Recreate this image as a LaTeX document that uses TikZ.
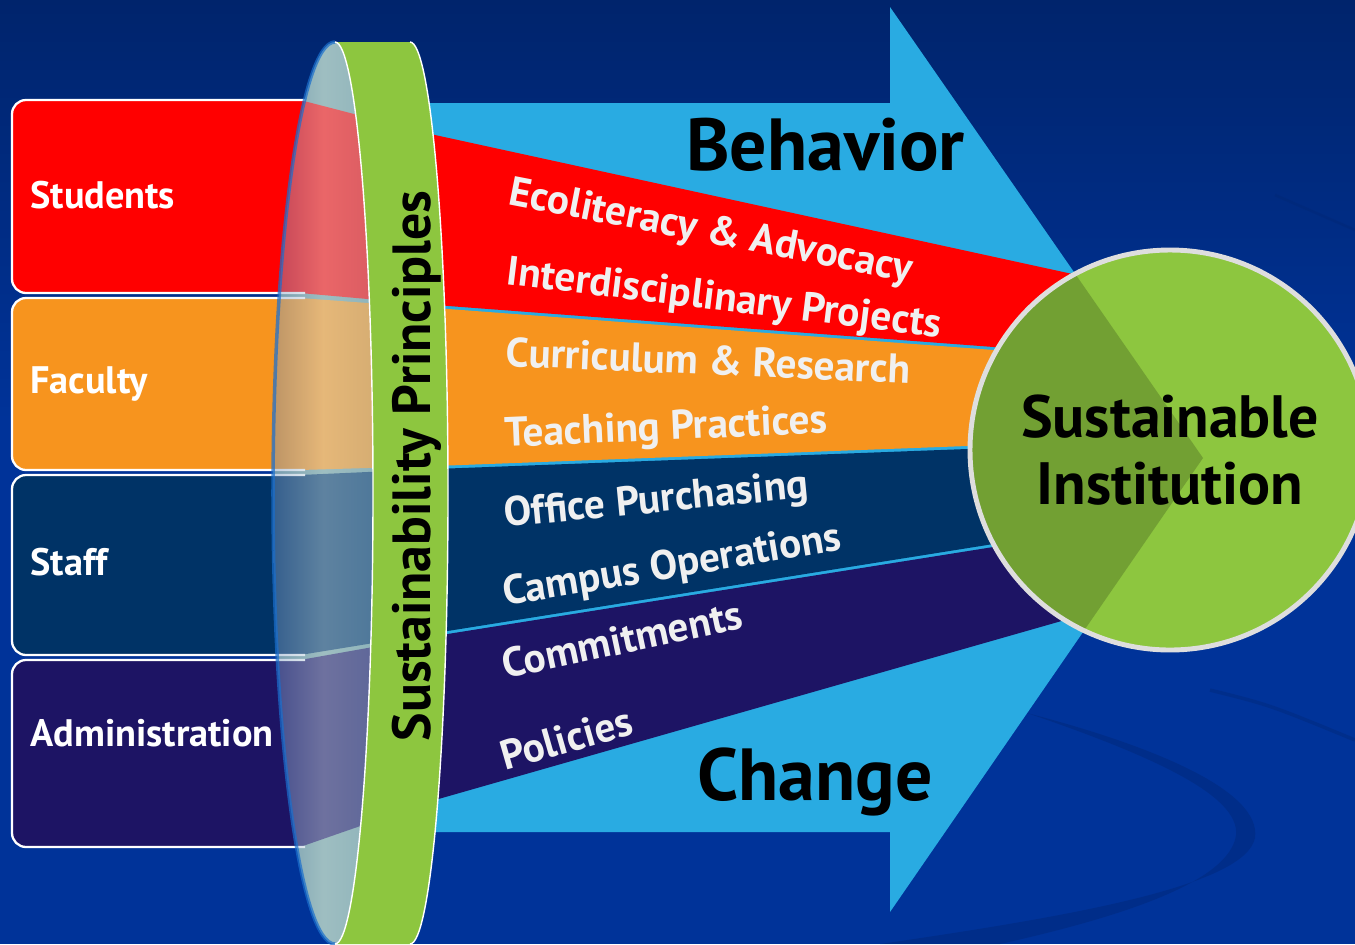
\documentclass[tikz,border=0pt]{standalone}
\usepackage{fontspec}
\setmainfont{PT Sans}
\usetikzlibrary{positioning}
\definecolor{bgtop}{RGB}{0,36,108}
\definecolor{bgmain}{RGB}{0,51,153}
\definecolor{arrowblue}{RGB}{41,171,226}
\definecolor{bandred}{RGB}{255,0,0}
\definecolor{bandorange}{RGB}{247,148,30}
\definecolor{bandnavy}{RGB}{0,51,102}
\definecolor{bandpurple}{RGB}{29,20,100}
\definecolor{ringgreen}{RGB}{141,198,63}
\definecolor{lensbase}{RGB}{117,160,162}
\definecolor{lensedge}{RGB}{25,110,205}
\definecolor{rimgray}{RGB}{222,222,222}

\begin{document}
\begin{tikzpicture}[x=0.02cm,y=-0.02cm,
	boxrim/.style={draw=white,line width=1.3pt,rounded corners=8pt},
	boxlabel/.style={anchor=base west,inner sep=0pt,text=white,font=\bfseries\fontsize{21.8}{26}\selectfont},
	fanlabel/.style={anchor=base west,inner sep=0pt,text=white!94!black,font=\bfseries\fontsize{23.5}{28}\selectfont},
	bigword/.style={anchor=base west,inner sep=0pt,text=black,font=\bfseries\fontsize{42}{50}\selectfont}]
	\useasboundingbox (0,0) rectangle (1355,944);
	
	\fill[bgmain] (0,0) rectangle (1355,944);
	\shade[top color=bgtop,bottom color=bgmain] (0,0) rectangle (1355,420);
	%\fill[bgtop,opacity=.35] swoosh
	\fill[bgtop,opacity=.35] (1027,713) .. controls (1150,745) and (1262,790) .. (1255,838) .. controls (1245,885) and (1080,915) .. (880,944) -- (1000,944) .. controls (1130,915) and (1230,880) .. (1236,835) .. controls (1240,795) and (1150,755) .. (1027,713) -- cycle;
	\draw[bgtop,opacity=.3,line width=2pt] (1210,690) .. controls (1270,705) .. (1355,740);
	\draw[bgtop,opacity=.25,line width=1.5pt] (1275,195) -- (1355,230);
	
	\fill[lensbase] (335,42) arc[start angle=-90,end angle=-270,x radius=62,y radius=451] arc[start angle=90,end angle=-90,x radius=38,y radius=451] -- cycle;
	
	\fill[arrowblue] (400,103) -- (890,103) -- (890,7) -- (1203,458) -- (890,912) -- (890,832) -- (400,832) -- cycle;
	
	\fill[bandred,rounded corners=8pt] (12,100) rectangle (310,293);
	\fill[bandred] (300,100) -- (435,135) -- (1100,280) -- (1100,355) -- (435,305) -- (300,293) -- cycle;
	\draw[boxrim] (305,100) -- (12,100) -- (12,293) -- (305,293);
	
	\fill[bandorange,rounded corners=8pt] (12,298) rectangle (310,470);
	\fill[bandorange] (300,298) -- (435,308) -- (1100,358) -- (1100,441) -- (435,466) -- (300,470) -- cycle;
	\draw[boxrim] (305,298) -- (12,298) -- (12,470) -- (305,470);
	
	\fill[bandnavy,rounded corners=8pt] (12,475) rectangle (310,655);
	\fill[bandnavy] (300,475) -- (435,469) -- (1100,444) -- (1100,527) -- (435,633) -- (300,655) -- cycle;
	\draw[boxrim] (305,475) -- (12,475) -- (12,655) -- (305,655);
	
	\fill[bandpurple,rounded corners=8pt] (12,660) rectangle (310,847);
	\fill[bandpurple] (300,660) -- (435,636) -- (1100,530) -- (1100,610) -- (435,800) -- (300,847) -- cycle;
	\draw[boxrim] (305,660) -- (12,660) -- (12,847) -- (305,847);
	
	\shade[opacity=.45,left color={rgb,255:red,120;green,150;blue,190},right color={rgb,255:red,175;green,205;blue,218},middle color={rgb,255:red,210;green,228;blue,232}] (335,42) arc[start angle=-90,end angle=-270,x radius=62,y radius=451] arc[start angle=90,end angle=-90,x radius=38,y radius=451] -- cycle;
	\draw[lensedge,line width=2pt,opacity=.7] (335,42) arc[start angle=-90,end angle=-270,x radius=62,y radius=451];
	
	\fill[ringgreen] (335,42) -- (410,42) arc[start angle=-90,end angle=90,x radius=38,y radius=451] -- (335,944) arc[start angle=90,end angle=-90,x radius=38,y radius=451] -- cycle;
	\draw[white,line width=.8pt] (410,42) arc[start angle=-90,end angle=90,x radius=38,y radius=451];
	\draw[white,line width=.8pt] (335,944) arc[start angle=90,end angle=-90,x radius=38,y radius=451];
	
	\node[circle,fill=ringgreen,minimum size=8.04cm,inner sep=0pt,align=center,font=\bfseries\fontsize{34}{38}\selectfont] (goal) at (1170,450) {Sustainable\\Institution};
	\begin{scope}
		\clip (1170,450) circle[radius=200];
		\fill[black,opacity=.19] (890,7) -- (1203,458) -- (890,912) -- cycle;
	\end{scope}
	\draw[rimgray,line width=2.8pt] (goal.center) circle[radius=200];
	
	\node[rotate=90,anchor=base,inner sep=0pt,font=\bfseries\fontsize{30.6}{36}\selectfont] (principles) at (430,466) {Sustainability Principles};
	
	\node[boxlabel] (students) at (30,208) {Students};
	\node[boxlabel] (faculty) at (30,393) {Faculty};
	\node[boxlabel] (staff) at (30,575) {Staff};
	\node[boxlabel] (admin) at (30,746) {Administration};
	
	\node[fanlabel,rotate=-11] (eco) at (507,204) {Ecoliteracy \& Advocacy};
	\node[fanlabel,rotate=-7] (inter) at (505,284) {Interdisciplinary Projects};
	\node[fanlabel,rotate=-2.5] (curr) at (505,366) {Curriculum \& Research};
	\node[fanlabel,rotate=2.5] (teach) at (505,447) {Teaching Practices};
	\node[fanlabel,rotate=5.5] (office) at (505,527) {Office Purchasing};
	\node[fanlabel,rotate=9.5] (campus) at (505,606) {Campus Operations};
	\node[fanlabel,rotate=12] (commit) at (505,679) {Commitments};
	\node[fanlabel,rotate=16] (policy) at (505,771) {Policies};
	
	\node[bigword] (behavior) at (686,170) {Behavior};
	\node[bigword] (change) at (697,800) {Change};
\end{tikzpicture}
\end{document}
